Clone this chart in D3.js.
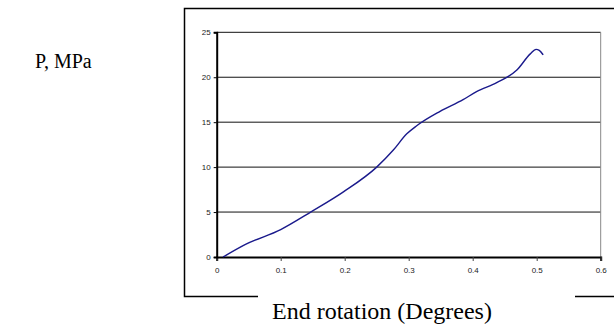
<!DOCTYPE html>
<html>
<head>
<meta charset="utf-8">
<script src="https://cdn.jsdelivr.net/npm/d3@7"></script>
<style>
body { margin: 0; background: #fff; }
svg { display: block; }
.tick text { font-family: "Liberation Sans", Arial, sans-serif; font-size: 8px; fill: #222; }
</style>
</head>
<body>
<div id="chart"></div>
<script>
// end rotation (degrees) vs pressure (MPa)
var rotation = [0.010, 0.045, 0.100, 0.148, 0.198, 0.250, 0.276, 0.297, 0.3125, 0.349, 0.385, 0.406, 0.4375, 0.469, 0.490, 0.499, 0.504, 0.510];
var pressure = [0.0, 1.4, 3.05, 5.05, 7.25, 10.0, 11.9, 13.7, 14.6, 16.2, 17.5, 18.4, 19.4, 20.8, 22.6, 23.1, 23.0, 22.5];
var xTicks = [0, 0.1, 0.2, 0.3, 0.4, 0.5, 0.6];
var yTicks = [0, 5, 10, 15, 20, 25];

var W = 614, H = 326;
var svg = d3.select('#chart').append('svg')
	.attr('width', W)
	.attr('height', H);

// outer chart frame (right side runs off the picture)
svg.append('path')
	.attr('d', 'M258,296.5 H184.5 V8.5 H614')
	.attr('fill', 'none')
	.attr('stroke', '#000')
	.attr('stroke-width', 1.5);
svg.append('line')
	.attr('x1', 575).attr('x2', 614)
	.attr('y1', 296.5).attr('y2', 296.5)
	.attr('stroke', '#000')
	.attr('stroke-width', 1.5);

var x = d3.scaleLinear().domain([0, 0.6]).range([216.7, 600.7]);
var y = d3.scaleLinear().domain([0, 25]).range([257, 32.3]);

// horizontal grid
svg.append('g')
	.selectAll('line')
	.data(yTicks.slice(1))
	.join('line')
	.attr('x1', x(0)).attr('x2', x(0.6))
	.attr('y1', d => y(d)).attr('y2', d => y(d))
	.attr('stroke', '#111')
	.attr('stroke-width', 1);

// right border of plot area
svg.append('line')
	.attr('x1', x(0.6)).attr('x2', x(0.6))
	.attr('y1', y(25)).attr('y2', y(0))
	.attr('stroke', '#888')
	.attr('stroke-width', 1);

var xAxis = svg.append('g')
	.attr('transform', 'translate(0,' + y(0) + ')')
	.call(d3.axisBottom(x).tickValues(xTicks).tickFormat(d3.format('')).tickSize(4).tickPadding(6));
xAxis.select('.domain').attr('stroke', '#000').attr('stroke-width', 2);
xAxis.selectAll('.tick line').attr('stroke', '#444');

var yAxis = svg.append('g')
	.attr('transform', 'translate(' + x(0) + ',0)')
	.call(d3.axisLeft(y).tickValues(yTicks).tickSize(3).tickPadding(3));
yAxis.select('.domain').attr('stroke', '#000').attr('stroke-width', 2);
yAxis.selectAll('.tick line').attr('stroke', '#000');

var pts = rotation.map((r, i) => [r, pressure[i]]);
var line = d3.line()
	.x(d => x(d[0]))
	.y(d => y(d[1]))
	.curve(d3.curveMonotoneX);

svg.append('path')
	.datum(pts)
	.attr('d', line)
	.attr('fill', 'none')
	.attr('stroke', '#1a1a8c')
	.attr('stroke-width', 1.4);

// titles
svg.append('text')
	.attr('x', 35).attr('y', 68)
	.style('font-family', '"Liberation Serif", "Times New Roman", serif')
	.style('font-size', '20px')
	.text('P, MPa');

svg.append('text')
	.attr('x', 272).attr('y', 319)
	.style('font-family', '"Liberation Serif", "Times New Roman", serif')
	.style('font-size', '24px')
	.text('End rotation (Degrees)');
</script>
</body>
</html>
